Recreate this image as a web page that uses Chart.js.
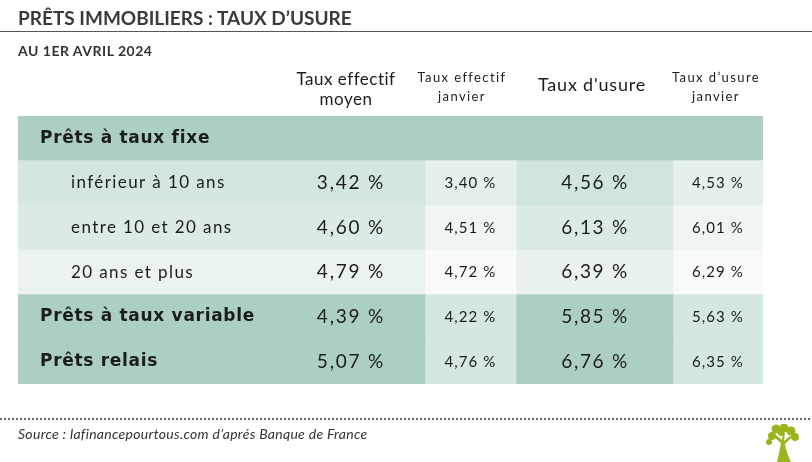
<!DOCTYPE html>
<html lang="fr">
<head>
<meta charset="utf-8">
<title>Prêts immobiliers : taux d'usure</title>
<script src="https://cdn.jsdelivr.net/npm/chart.js@4/dist/chart.umd.min.js"></script>
<style>
  html, body { margin: 0; padding: 0; background: #fff; }
  #wrap { position: relative; width: 812px; height: 462px; overflow: hidden; font-family: 'Lato', 'Noto Sans', sans-serif; color: #333; }
  #wrap div { line-height: 1; white-space: nowrap; }
  #chart { position: absolute; left: 0; top: 0; }
  .title { position: absolute; left: 18px; top: 8px; font-size: 19px; font-weight: 700; color: #3a3a3a; }
  .rule { position: absolute; left: 0; top: 31px; width: 812px; height: 1px; background: #555; }
  .subtitle { position: absolute; left: 18px; top: 44px; font-size: 14px; font-weight: 700; letter-spacing: 0.5px; color: #333; }
  .dots { position: absolute; left: 0; top: 418px; width: 812px; height: 2px;
          background: repeating-linear-gradient(to right, #666 0 2px, transparent 2px 4px); }
  .source { position: absolute; left: 18px; top: 427px; font-size: 14px; font-style: italic; letter-spacing: 0.3px; color: #333; }
  .logo { position: absolute; left: 761px; top: 424px; }
</style>
</head>
<body>
<div id="wrap">
  <canvas id="chart" width="812" height="462"></canvas>
  <div class="title">PRÊTS IMMOBILIERS : TAUX D’USURE</div>
  <div class="rule"></div>
  <div class="subtitle">AU 1ER AVRIL 2024</div>
  <div class="dots"></div>
  <div class="source">Source : lafinancepourtous.com d’aprés Banque de France</div>
  <svg class="logo" width="42" height="38" viewBox="0 0 42 38">
    <g fill="#9db41c">
      <path d="M16 38 C18 30 19 24 20 19 L13 13 L15 11 L21 16 L22 9 L24 9 L23 17 L29 12 L31 13 L24 20 C25 26 27 32 30 38 Z"/>
      <circle cx="11" cy="12" r="4"/>
      <circle cx="15" cy="5" r="4.5"/>
      <circle cx="23" cy="4" r="4.5"/>
      <circle cx="30" cy="7" r="4.5"/>
      <circle cx="34" cy="13" r="4"/>
      <circle cx="8" cy="18" r="3"/>
      <circle cx="20" cy="9" r="3"/>
    </g>
  </svg>
</div>
<script>
'use strict';

// rows of the table, top to bottom
const rowLabels = [
  'Prêts à taux fixe',
  'inférieur à 10 ans',
  'entre 10 et 20 ans',
  '20 ans et plus',
  'Prêts à taux variable',
  'Prêts relais'
];
const rowIsGroup = [true, false, false, false, true, true];

// column headings
const columnHeaders = [
  ['Taux effectif', 'moyen'],
  ['Taux effectif', 'janvier'],
  ["Taux d'usure"],
  ['Taux d’usure', 'janvier']
];

// values in %
const tauxEffectifMoyen = [null, 3.42, 4.60, 4.79, 4.39, 5.07];
const tauxEffectifJanvier = [null, 3.40, 4.51, 4.72, 4.22, 4.76];
const tauxUsure = [null, 4.56, 6.13, 6.39, 5.85, 6.76];
const tauxUsureJanvier = [null, 4.53, 6.01, 6.29, 5.63, 6.35];

const valueSeries = [tauxEffectifMoyen, tauxEffectifJanvier, tauxUsure, tauxUsureJanvier];

// --- layout / style (table units along x) ---
const BAND_EDGES = [0, 407, 498, 655, 745];
const VALUE_CENTERS = [333, 452.5, 577, 700];
const HEADER_CENTERS = [328, 444, 574, 698];
const LABEL_X = { group: 22, sub: 53 };
const TEXT = '#1c1c1c';
const DARK = '#abcec5';
const BAND_COLORS = [
  [DARK, '#d3e6e1', '#dcebe7', '#eaf3f0', DARK, DARK],
  [DARK, '#e5f0ed', '#eef5f3', '#f7faf9', '#d4e7e2', '#d4e7e2'],
  [DARK, '#d1e5df', '#dceae6', '#e9f2ef', DARK, DARK],
  [DARK, '#e5f0ed', '#eef5f3', '#f7faf9', '#d4e7e2', '#d4e7e2']
];
const HEADER_STYLE = [
  { size: 17, spacing: 0.5, lines: [85, 105] },
  { size: 13, spacing: 1.4, lines: [82, 101] },
  { size: 18, spacing: 0.8, lines: [91] },
  { size: 13, spacing: 1.4, lines: [82, 101] }
];
const VALUE_STYLE = [
  { size: 19, spacing: 1.8 },
  { size: 15, spacing: 1.1 },
  { size: 19, spacing: 1.7 },
  { size: 15, spacing: 1.1 }
];
const FONT = "'Lato', 'Noto Sans', sans-serif";
const GROUP_FONT = "'DejaVu Sans', 'Noto Sans', sans-serif";

const pctFmt = v => new Intl.NumberFormat('fr-FR', { minimumFractionDigits: 2, maximumFractionDigits: 2 }).format(v) + ' %';

const tableText = {
  id: 'tableText',
  afterDatasetsDraw(chart) {
    const { ctx } = chart;
    const x = chart.scales.x;
    const y = chart.scales.y;
    ctx.save();
    ctx.fillStyle = TEXT;

    // column headings above the table
    ctx.textAlign = 'center';
    ctx.textBaseline = 'alphabetic';
    columnHeaders.forEach((lines, c) => {
      const st = HEADER_STYLE[c];
      ctx.font = `400 ${st.size}px ${FONT}`;
      ctx.letterSpacing = st.spacing + 'px';
      lines.forEach((txt, i) => ctx.fillText(txt, x.getPixelForValue(HEADER_CENTERS[c]), st.lines[i]));
    });

    // row labels and values
    ctx.textBaseline = 'middle';
    rowLabels.forEach((lab, r) => {
      const cy = y.getPixelForValue(r);
      ctx.textAlign = 'left';
      if (rowIsGroup[r]) {
        ctx.font = `700 17px ${GROUP_FONT}`;
        ctx.letterSpacing = '0.7px';
        ctx.fillText(lab, x.getPixelForValue(LABEL_X.group), cy);
      } else {
        ctx.font = `400 17px ${FONT}`;
        ctx.letterSpacing = '1.4px';
        ctx.fillText(lab, x.getPixelForValue(LABEL_X.sub), cy);
      }
      ctx.textAlign = 'center';
      valueSeries.forEach((arr, c) => {
        if (arr[r] == null) return;
        const st = VALUE_STYLE[c];
        ctx.font = `400 ${st.size}px ${FONT}`;
        ctx.letterSpacing = st.spacing + 'px';
        ctx.fillText(pctFmt(arr[r]), x.getPixelForValue(VALUE_CENTERS[c]), cy);
      });
    });
    ctx.restore();
  }
};

const datasets = BAND_COLORS.map((colors, b) => ({
  label: 'col' + b,
  data: rowLabels.map(() => [BAND_EDGES[b], BAND_EDGES[b + 1]]),
  backgroundColor: colors,
  borderWidth: 0,
  barPercentage: 1,
  categoryPercentage: 1,
  grouped: false
}));

new Chart(document.getElementById('chart'), {
  type: 'bar',
  data: { labels: rowLabels, datasets },
  options: {
    indexAxis: 'y',
    responsive: false,
    animation: false,
    devicePixelRatio: 1,
    layout: { padding: { left: 18, top: 116, right: 49, bottom: 78 } },
    plugins: { legend: { display: false }, tooltip: { enabled: false } },
    scales: {
      x: { type: 'linear', min: BAND_EDGES[0], max: BAND_EDGES[BAND_EDGES.length - 1], display: false },
      y: {
        type: 'category',
        z: 1,
        ticks: { display: false },
        border: { display: false },
        grid: {
          offset: true,
          drawTicks: false,
          lineWidth: 2,
          color: ctx => (ctx.index === 4 || ctx.index === 5 ? 'rgba(255,255,255,0.85)' : 'rgba(0,0,0,0)')
        }
      }
    }
  },
  plugins: [tableText]
});
</script>
</body>
</html>
